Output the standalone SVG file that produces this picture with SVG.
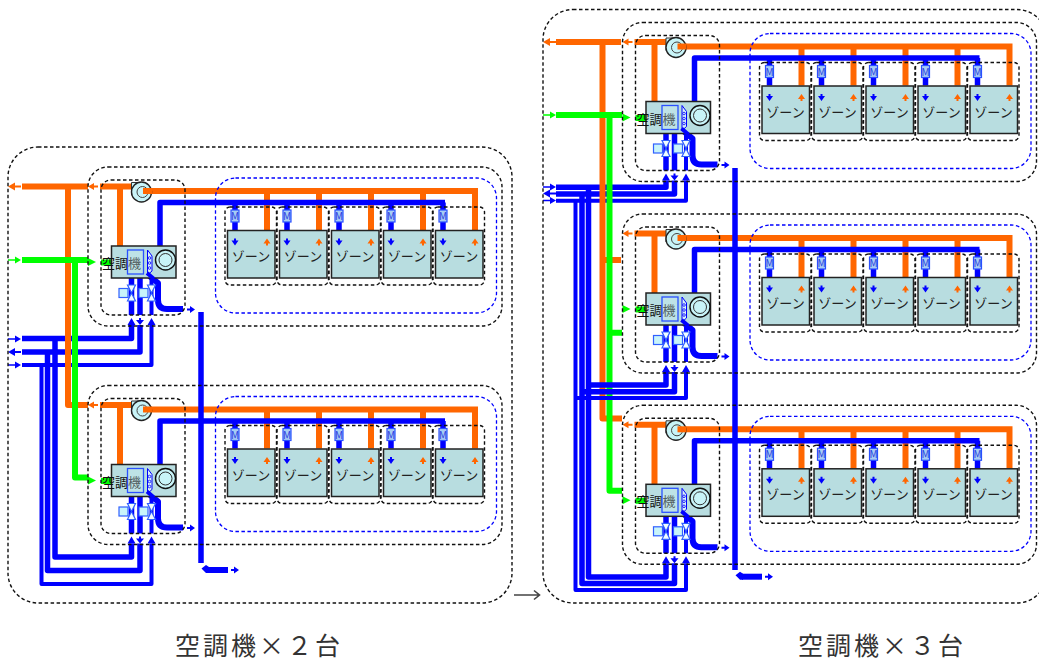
<svg xmlns="http://www.w3.org/2000/svg" xmlns:xlink="http://www.w3.org/1999/xlink" width="1039" height="660" viewBox="0 0 1039 660">
<style>
text{font-family:"Noto Sans CJK JP","Noto Sans",sans-serif}
.d{fill:none;stroke:#111;stroke-width:1.4;stroke-dasharray:3.5 2.5}
.db{fill:none;stroke:#0000ff;stroke-width:1.3;stroke-dasharray:3.5 2.5}
.p{fill:none;stroke-linejoin:round}
.o{stroke:#ff6600;stroke-width:6}
.g{stroke:#00ff00;stroke-width:6}
.b{stroke:#0000ff;stroke-width:5.5}
.bt{stroke:#0000ff;stroke-width:4}
.fo{fill:#ff6600}.fg{fill:#00ff00}.fb{fill:#0000ff}
.box{fill:#b8dde0;stroke:#222;stroke-width:1.5}
.z{font-size:13px;fill:#222;text-anchor:middle}
.a{font-size:13px;fill:#111}
.m{font-size:10px;fill:#2a3fe0;text-anchor:middle}
.c{font-size:25px;fill:#333;letter-spacing:3px}
</style>
<defs>
<g id="pipes">
<path class="p o" d="M100 186.500H132M120 186.500V246M143 191H478M267 191V230M319 191V230M371 191V230M423 191V230M475 191V230"/>
<path class="p b" d="M160 246V202.500H445M235 202.500V230M287 202.500V230M339 202.500V230M391 202.500V230M443 202.500V230M131.500 274V315M140 274V315"/>
<path class="p bt" d="M151.500 274V315"/>
<path class="p" stroke="#0000ff" stroke-width="6" d="M147 274L158 283V300Q158 309 167 309H183"/>
<path class="p g" d="M101 262.500H112"/>
<path class="fo" d="M88 186.500l6-3.500v2.500h4v2h-4v2.500z"/>
<path class="fg" d="M96 262l-8-4v8z"/>
<path class="fb" d="M195 309.500l-5-3.500v2.500h-3v2h3v2.500z"/>
<path class="fb" d="M131.500 318l-4 7h8zM140 325l-4-5h3v-2h2v2h3zM151.500 318l-4 7h8z"/>
</g>
<g id="frame">
<rect class="d" x="88" y="167" width="414" height="159" rx="20"/>
<rect class="d" x="101" y="180" width="84" height="135" rx="10"/>
<rect class="db" x="215.500" y="178" width="281" height="135" rx="20"/>
</g>
<g id="fan">
<path d="M131.500 182.500H142V195H131.500z" fill="#c8f4f8" stroke="#333"/>
<circle cx="141.500" cy="192" r="10" fill="#c8f4f8" stroke="#222" stroke-width="1.400"/>
<circle cx="142.500" cy="192" r="5.500" fill="none" stroke="#444"/>
<path class="p o" d="M143 191H152"/>
</g>
<rect id="box" class="box" x="111.500" y="246" width="64.500" height="32"/>
<g id="ahu-over">
<rect x="127.500" y="250" width="16" height="24" fill="#c8eaf0" fill-opacity=".35" stroke="#2a50ff" stroke-width="1.300"/>
<path d="M147.500 250L152 256V271L147.500 275z" fill="#d8f0f8" stroke="#0000ff"/>
<circle cx="149.500" cy="258" r="1.300" fill="none" stroke="#0000ff" stroke-width=".8"/><circle cx="149.500" cy="263" r="1.300" fill="none" stroke="#0000ff" stroke-width=".8"/><circle cx="149.500" cy="268" r="1.300" fill="none" stroke="#0000ff" stroke-width=".8"/>
<path class="p" stroke="#0000ff" stroke-width="4" d="M147 273L154 279"/>
<circle cx="165.500" cy="260" r="10" fill="#c8f4f8" stroke="#111" stroke-width="1.400"/>
<circle cx="165.500" cy="260" r="6.500" fill="none" stroke="#333"/>
<g fill="#c8f4fa" stroke="#3060ff" stroke-width="1.200">
<rect x="119" y="288.500" width="9" height="9"/><rect x="139" y="288.500" width="9" height="9"/>
<path d="M127.500 285H135.500L127.500 301H135.500z" fill="#f0fdff"/><path d="M147.500 285H155.500L147.500 301H155.500z" fill="#f0fdff"/>
</g>
</g>
<g id="zone">
<rect class="d" x="225" y="207" width="51.500" height="78" rx="5"/>
<rect x="231" y="210" width="8" height="12" fill="#a8ccf4" stroke="#2a50ff" stroke-width="1.200"/>
<rect class="box" x="227.500" y="230.500" width="47.500" height="47.500"/>
<path class="fb" d="M235 245.500l-3.500-5h2.500v-2h2v2h2.500z"/>
<path class="fo" d="M267 238.500l-3.500 5h2.500v2h2v-2h2.500z"/>
</g>
</defs>

<g id="connectors">
<g id="left-ducts" class="p">
<path class="b" d="M131.500 325V338.500H22M140 325V352H22M55 339V557H131.500V543.500M47.500 352V570.500H140V543.500"/>
<path class="bt" d="M151.500 325V365H22M41.500 365V584H151.500V543.500"/>
</g>
<g id="left-mains" class="p">
<path class="o" d="M22 186.500H88M68 186.500V405H88"/>
<path class="g" d="M22 260H88M75 260V477.500H88"/>
</g>
<use href="#pipes"/>
<use href="#pipes" y="218.500"/>
<path class="p" stroke="#0000ff" stroke-width="5.500" d="M201 312V563"/>
<path class="p" stroke="#0000ff" stroke-width="6" d="M207 570H228"/>
<path class="fb" d="M201.500 568.500L206 565L209 567V573H206zM239 570l-5-3.500v2.500h-3v2h3v2.500z"/>
<g id="left-ends">
<path class="fo" d="M8 186.500l7-4v3h6v2h-6v3z"/>
<path class="fg" d="M21 260l-6-3.500v2.700H8v1.600h7v2.700z"/>
<path class="fb" d="M21 339l-6-3.500v2.700H8v1.600h7v2.700zM8 352l7-4v3h6v2h-6v3zM21 365l-6-3.500v2.700H8v1.600h7v2.700z"/>
</g>

<g id="right-ducts-top" class="p">
<path class="b" d="M666 180.500V187.300H556M674.500 180.500V194H556"/>
<path class="bt" d="M686 180.500V200.700H556"/>
</g>
<g id="right-mains" class="p">
<path class="o" d="M556 42H621M602.500 42V418.500H622M605 260H621"/>
<path class="g" d="M556 115H622M609.500 115V490.700H622M609.500 332.700H622"/>
</g>
<g id="right-ducts" class="p">
<path class="b" d="M666 372V385H589M674.500 372V391.700H582M666 563.300V577H588.500V187.300M674.500 563.300V583.500H582V194"/>
<path class="bt" d="M686 372V398H575.500M686 563.300V590H575.500V200.700"/>
</g>
<use href="#pipes" x="534.500" y="-144.500"/>
<use href="#pipes" x="534.500" y="47"/>
<use href="#pipes" x="534.500" y="238.300"/>
<path class="p" stroke="#0000ff" stroke-width="5.500" d="M735 168V570"/>
<path class="p" stroke="#0000ff" stroke-width="6" d="M742 576.700H762"/>
<path class="fb" d="M735.500 575.200L740 571.700L743 573.700V579.700H740zM773 576.700l-5-3.500v2.500h-3v2h3v2.500z"/>
<g id="right-ends">
<path class="fo" d="M543 42l7-4v3h6v2h-6v3z"/>
<path class="fg" d="M556 115l-6-3.500v2.700h-7v1.600h7v2.700z"/>
<path class="fb" d="M556 187l-6-3.500v2.700h-7v1.600h7v2.700zM543 193.500l7-4v3h6v2h-6v3zM556 200.500l-6-3.500v2.700h-7v1.600h7v2.700z"/>
</g>
<path id="transition" d="M514 595H539M534 590.500L539.500 595L534 599.500" fill="none" stroke="#444" stroke-width="1.600"/>
</g>

<rect id="outer-left" class="d" x="8" y="147" width="504" height="456" rx="30"/>
<rect id="outer-right" class="d" x="543" y="9.500" width="504" height="593.500" rx="30"/>

<g id="unit-L1">
<use href="#frame"/><use href="#fan"/>
<g id="ahu-L1"><use href="#box"/><text class="a" x="102" y="268">空調機</text><use href="#ahu-over"/></g>
<g id="L1-z1"><use href="#zone"/><text class="z" x="251" y="261">ゾーン</text><text class="m" x="235" y="220">M</text></g>
<g id="L1-z2" transform="translate(52,0)"><use href="#zone"/><text class="z" x="251" y="261">ゾーン</text><text class="m" x="235" y="220">M</text></g>
<g id="L1-z3" transform="translate(104,0)"><use href="#zone"/><text class="z" x="251" y="261">ゾーン</text><text class="m" x="235" y="220">M</text></g>
<g id="L1-z4" transform="translate(156,0)"><use href="#zone"/><text class="z" x="251" y="261">ゾーン</text><text class="m" x="235" y="220">M</text></g>
<g id="L1-z5" transform="translate(208,0)"><use href="#zone"/><text class="z" x="251" y="261">ゾーン</text><text class="m" x="235" y="220">M</text></g>
</g>
<g id="unit-L2" transform="translate(0,218.500)">
<use href="#frame"/><use href="#fan"/>
<g id="ahu-L2"><use href="#box"/><text class="a" x="102" y="268">空調機</text><use href="#ahu-over"/></g>
<g id="L2-z1"><use href="#zone"/><text class="z" x="251" y="261">ゾーン</text><text class="m" x="235" y="220">M</text></g>
<g id="L2-z2" transform="translate(52,0)"><use href="#zone"/><text class="z" x="251" y="261">ゾーン</text><text class="m" x="235" y="220">M</text></g>
<g id="L2-z3" transform="translate(104,0)"><use href="#zone"/><text class="z" x="251" y="261">ゾーン</text><text class="m" x="235" y="220">M</text></g>
<g id="L2-z4" transform="translate(156,0)"><use href="#zone"/><text class="z" x="251" y="261">ゾーン</text><text class="m" x="235" y="220">M</text></g>
<g id="L2-z5" transform="translate(208,0)"><use href="#zone"/><text class="z" x="251" y="261">ゾーン</text><text class="m" x="235" y="220">M</text></g>
</g>
<g id="unit-R1" transform="translate(534.500,-144.500)">
<use href="#frame"/><use href="#fan"/>
<g id="ahu-R1"><use href="#box"/><text class="a" x="102" y="268">空調機</text><use href="#ahu-over"/></g>
<g id="R1-z1"><use href="#zone"/><text class="z" x="251" y="261">ゾーン</text><text class="m" x="235" y="220">M</text></g>
<g id="R1-z2" transform="translate(52,0)"><use href="#zone"/><text class="z" x="251" y="261">ゾーン</text><text class="m" x="235" y="220">M</text></g>
<g id="R1-z3" transform="translate(104,0)"><use href="#zone"/><text class="z" x="251" y="261">ゾーン</text><text class="m" x="235" y="220">M</text></g>
<g id="R1-z4" transform="translate(156,0)"><use href="#zone"/><text class="z" x="251" y="261">ゾーン</text><text class="m" x="235" y="220">M</text></g>
<g id="R1-z5" transform="translate(208,0)"><use href="#zone"/><text class="z" x="251" y="261">ゾーン</text><text class="m" x="235" y="220">M</text></g>
</g>
<g id="unit-R2" transform="translate(534.500,47)">
<use href="#frame"/><use href="#fan"/>
<g id="ahu-R2"><use href="#box"/><text class="a" x="102" y="268">空調機</text><use href="#ahu-over"/></g>
<g id="R2-z1"><use href="#zone"/><text class="z" x="251" y="261">ゾーン</text><text class="m" x="235" y="220">M</text></g>
<g id="R2-z2" transform="translate(52,0)"><use href="#zone"/><text class="z" x="251" y="261">ゾーン</text><text class="m" x="235" y="220">M</text></g>
<g id="R2-z3" transform="translate(104,0)"><use href="#zone"/><text class="z" x="251" y="261">ゾーン</text><text class="m" x="235" y="220">M</text></g>
<g id="R2-z4" transform="translate(156,0)"><use href="#zone"/><text class="z" x="251" y="261">ゾーン</text><text class="m" x="235" y="220">M</text></g>
<g id="R2-z5" transform="translate(208,0)"><use href="#zone"/><text class="z" x="251" y="261">ゾーン</text><text class="m" x="235" y="220">M</text></g>
</g>
<g id="unit-R3" transform="translate(534.500,238.300)">
<use href="#frame"/><use href="#fan"/>
<g id="ahu-R3"><use href="#box"/><text class="a" x="102" y="268">空調機</text><use href="#ahu-over"/></g>
<g id="R3-z1"><use href="#zone"/><text class="z" x="251" y="261">ゾーン</text><text class="m" x="235" y="220">M</text></g>
<g id="R3-z2" transform="translate(52,0)"><use href="#zone"/><text class="z" x="251" y="261">ゾーン</text><text class="m" x="235" y="220">M</text></g>
<g id="R3-z3" transform="translate(104,0)"><use href="#zone"/><text class="z" x="251" y="261">ゾーン</text><text class="m" x="235" y="220">M</text></g>
<g id="R3-z4" transform="translate(156,0)"><use href="#zone"/><text class="z" x="251" y="261">ゾーン</text><text class="m" x="235" y="220">M</text></g>
<g id="R3-z5" transform="translate(208,0)"><use href="#zone"/><text class="z" x="251" y="261">ゾーン</text><text class="m" x="235" y="220">M</text></g>
</g>
<text id="caption-left" class="c" x="175" y="655">空調機×２台</text>
<text id="caption-right" class="c" x="798" y="655">空調機×３台</text>
</svg>
